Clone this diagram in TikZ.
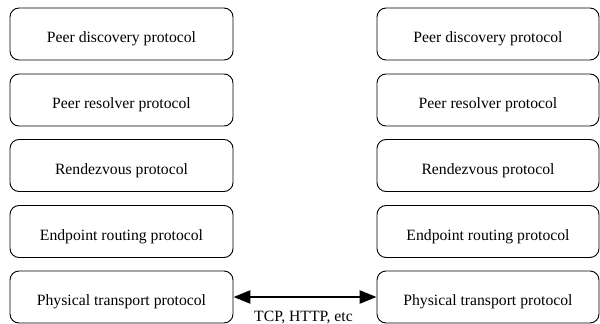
\documentclass[tikz,border=0pt]{standalone}
\usepackage{fontspec}
\setmainfont{Liberation Serif}
\usetikzlibrary{arrows.meta}
\begin{document}
\begin{tikzpicture}[x=1pt,y=-1pt,
  txt/.style={font=\fontsize{15.7}{18}\selectfont},
  layer/.style={txt, draw, rounded corners=9pt, line width=0.9pt, minimum width=223pt, minimum height=52pt, inner sep=0pt, text height=17pt, text depth=0pt},
  link/.style={{Triangle[length=17pt,width=13pt]}-{Triangle[length=17pt,width=13pt]}, line width=2.6pt}]
\useasboundingbox (0,0) rectangle (600,324);
\node[layer] (l1) at (121.5,34) {Peer discovery protocol};
\node[layer] (l2) at (121.5,100) {Peer resolver protocol};
\node[layer] (l3) at (121.5,165.5) {Rendezvous protocol};
\node[layer] (l4) at (121.5,231.5) {Endpoint routing protocol};
\node[layer] (l5) at (121.5,297) {Physical transport protocol};
\node[layer, minimum width=222pt] (r1) at (488,34) {Peer discovery protocol};
\node[layer, minimum width=222pt] (r2) at (488,100) {Peer resolver protocol};
\node[layer, minimum width=222pt] (r3) at (488,165.5) {Rendezvous protocol};
\node[layer, minimum width=222pt] (r4) at (488,231.5) {Endpoint routing protocol};
\node[layer, minimum width=222pt] (r5) at (488,297) {Physical transport protocol};
\draw[link] (l5) -- (r5);
\node[txt, anchor=base, inner sep=0pt] (lbl) at (303.5,321.5) {TCP, HTTP, etc};
\end{tikzpicture}
\end{document}
